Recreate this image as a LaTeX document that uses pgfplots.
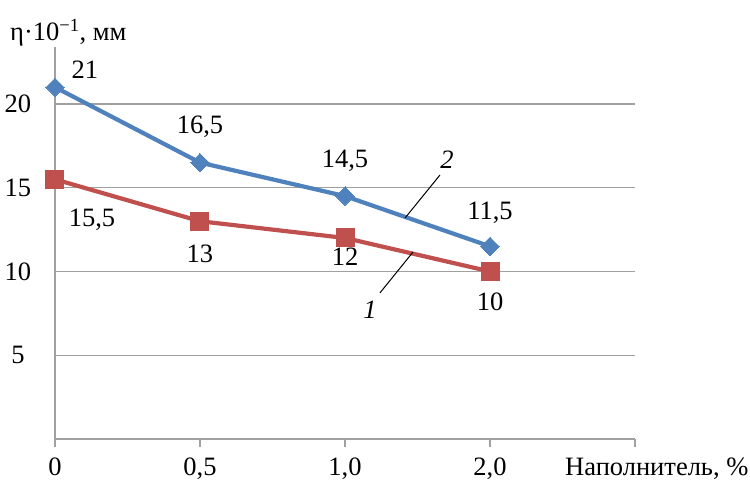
\documentclass[border=0pt]{standalone}
\usepackage{fontspec}
\setmainfont{Liberation Serif}
\usepackage{pgfplots}
\pgfplotsset{compat=1.18}

\definecolor{serblue}{RGB}{79,129,189}
\definecolor{serred}{RGB}{192,80,77}
\definecolor{gridgray}{RGB}{160,160,160}

\begin{document}
\begin{tikzpicture}[font=\fontsize{26.5}{31}\selectfont]
\useasboundingbox (-55pt,-43pt) rectangle (695pt,439pt);
\begin{axis}[
  at={(0pt,0pt)}, anchor=south west,
  scale only axis, width=580pt, height=392pt,
  xmin=0, xmax=4, ymin=0, ymax=23.4,
  axis x line*=bottom, axis y line*=left,
  axis line style={gridgray, line width=1.2pt, -},
  xtick={0,1,2,3,4},
  xticklabels={0,{0,5},{1,0},{2,0},{}},
  ytick={5,10,15,20},
  ymajorgrids,
  major grid style={gridgray, line width=1.2pt},
  tick style={gridgray, line width=1.2pt},
  major tick length=8pt,
  ytick style={draw=none},
  tick align=outside,
  xticklabel style={anchor=base, yshift=-28.5pt},
  yticklabel style={anchor=center, xshift=-29pt},
  /pgf/number format/assume math mode=true,
  clip=false,
]
% curve 2 (diamonds drawn as rotated squares)
\addplot[serblue, line width=4.2pt, mark=square*, mark size=6.5pt,
  mark options={line width=0pt, rotate=45}]
  coordinates {(0,21) (1,16.5) (2,14.5) (3,11.5)};
% curve 1
\addplot[serred, line width=4.2pt, mark=square*, mark size=9pt,
  mark options={line width=0pt}]
  coordinates {(0,15.5) (1,13) (2,12) (3,10)};

% value labels, curve 2
\node at (axis cs:0,21)   [xshift=30pt, yshift=17pt] {21};
\node at (axis cs:1,16.5) [yshift=36pt] {16,5};
\node at (axis cs:2,14.5) [yshift=35pt] {14,5};
\node at (axis cs:3,11.5) [yshift=34pt] {11,5};
% value labels, curve 1
\node at (axis cs:0,15.5) [xshift=37pt, yshift=-40pt] {15,5};
\node at (axis cs:1,13)   [yshift=-33pt] {13};
\node at (axis cs:2,12)   [yshift=-19pt] {12};
\node at (axis cs:3,10)   [yshift=-30pt] {10};

% curve numbers with leader lines
\draw[black, line width=1pt] (axis cs:2.655,15.76) -- (axis cs:2.414,13.19);
\node at (axis cs:2.703,16.66) {\itshape 2};
\draw[black, line width=1pt] (axis cs:2.241,8.72) -- (axis cs:2.469,11.16);
\node at (axis cs:2.172,7.70) {\itshape 1};
\end{axis}
\node[anchor=base west, inner sep=0pt] at (510pt,-36.5pt) {Наполнитель, \%};
\node[anchor=base west, inner sep=0pt] at (-45pt,398pt) {η·10\textsuperscript{−1}, мм};
\end{tikzpicture}
\end{document}
